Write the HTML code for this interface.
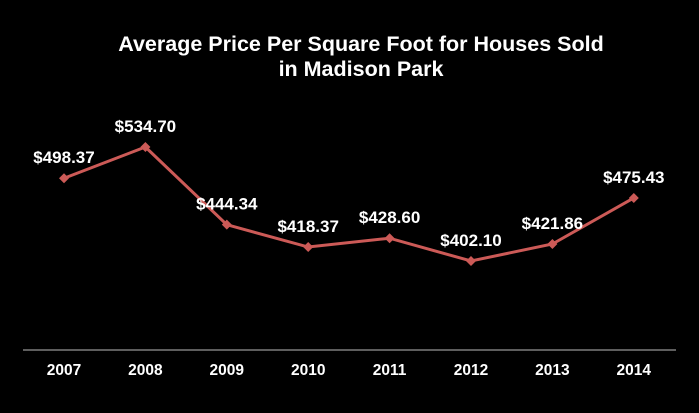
<!DOCTYPE html>
<html><head><meta charset="utf-8"><style>
html,body{margin:0;padding:0;background:#000;}
svg{display:block;font-family:"Liberation Sans",sans-serif;}
</style></head><body>
<svg id="chart" width="699" height="413" viewBox="0 0 699 413">
<rect width="699" height="413" fill="#000"/>
<text x="361" y="50" text-anchor="middle" fill="#fff" font-size="21.5" font-weight="bold"><tspan x="361" y="51">Average Price Per Square Foot for Houses Sold</tspan><tspan x="361" y="76">in Madison Park</tspan></text>
<line x1="23" y1="350" x2="676" y2="350" stroke="#bbb" stroke-width="1"/>
<g id="xlabels"></g>
<path id="series-line" fill="none" stroke="#cc5a57" stroke-width="3"/>
<g id="marks"></g>
</svg>
<script>
const categories = ["2007","2008","2009","2010","2011","2012","2013","2014"];
const values = [498.37,534.70,444.34,418.37,428.60,402.10,421.86,475.43];
const valueLabels = ["$498.37","$534.70","$444.34","$418.37","$428.60","$402.10","$421.86","$475.43"];
const NS="http://www.w3.org/2000/svg";
function xPos(i){return 64+i*81.4;}
function yPos(v){return 261-(v-402.1)*0.8597;}
const xl=document.getElementById('xlabels'), mk=document.getElementById('marks');
let d="";
values.forEach((v,i)=>{d+=(i?"L":"M")+xPos(i)+","+yPos(v);});
document.getElementById('series-line').setAttribute('d',d);
categories.forEach((c,i)=>{
  const t=document.createElementNS(NS,'text');
  t.setAttribute('x',xPos(i));t.setAttribute('y',375);
  t.setAttribute('text-anchor','middle');t.setAttribute('fill','#fff');
  t.setAttribute('font-size','15.5');t.setAttribute('font-weight','bold');
  t.textContent=c;
  
  
  xl.appendChild(t);
});
values.forEach((v,i)=>{
  const x=xPos(i),y=yPos(v);
  const p=document.createElementNS(NS,'path');
  p.setAttribute('d',`M${x},${y-5}L${x+5},${y}L${x},${y+5}L${x-5},${y}Z`);
  p.setAttribute('fill','#cc5a57');
  
  
  mk.appendChild(p);
  const t=document.createElementNS(NS,'text');
  t.setAttribute('x',x);t.setAttribute('y',y-15);
  t.setAttribute('text-anchor','middle');t.setAttribute('fill','#fff');
  t.setAttribute('font-size','17');t.setAttribute('font-weight','bold');
  t.textContent=valueLabels[i];
  
  
  mk.appendChild(t);
});
</script>
</body></html>
